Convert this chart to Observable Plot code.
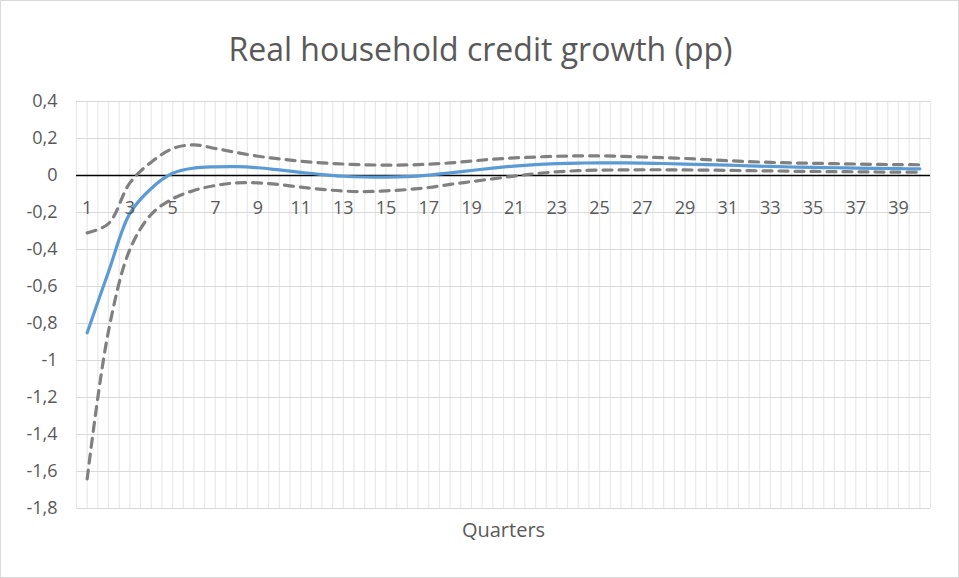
<!DOCTYPE html>
<html>
<head>
<meta charset="utf-8">
<script src="https://cdn.jsdelivr.net/npm/d3@7"></script>
<script src="https://cdn.jsdelivr.net/npm/@observablehq/plot@0.6"></script>
<style>
  html, body { margin: 0; padding: 0; background: #fff; }
  #wrap { position: relative; width: 959px; height: 578px; }
  #wrap svg { position: absolute; left: 0; top: 0; }
  #border { position: absolute; left: 0; top: 0; width: 959px; height: 578px; box-sizing: border-box; border: 1px solid #d9d9d9; pointer-events: none; }
</style>
</head>
<body>
<div id="wrap"><div id="border"></div></div>
<script>
const titleText = "Real household credit growth (pp)";
const xTitle = "Quarters";
const quarters = [1,2,3,4,5,6,7,8,9,10,11,12,13,14,15,16,17,18,19,20,21,22,23,24,25,26,27,28,29,30,31,32,33,34,35,36,37,38,39,40];
const central = [-0.85,-0.52,-0.205,-0.07,0.012,0.040,0.047,0.048,0.042,0.030,0.017,0.005,-0.004,-0.008,-0.009,-0.006,0.002,0.014,0.027,0.040,0.051,0.059,0.064,0.067,0.068,0.068,0.067,0.065,0.062,0.059,0.056,0.052,0.049,0.046,0.044,0.042,0.040,0.038,0.037,0.036];
const upper = [-0.31,-0.26,-0.04,0.072,0.145,0.166,0.146,0.124,0.104,0.090,0.077,0.068,0.062,0.058,0.056,0.057,0.061,0.068,0.078,0.088,0.095,0.100,0.104,0.106,0.106,0.104,0.100,0.096,0.092,0.086,0.080,0.075,0.071,0.068,0.066,0.064,0.062,0.060,0.059,0.058];
const lower = [-1.64,-0.84,-0.40,-0.21,-0.126,-0.081,-0.054,-0.040,-0.040,-0.049,-0.063,-0.075,-0.084,-0.087,-0.083,-0.076,-0.065,-0.048,-0.033,-0.018,-0.003,0.010,0.020,0.026,0.029,0.030,0.031,0.031,0.030,0.029,0.028,0.026,0.025,0.023,0.022,0.021,0.020,0.019,0.018,0.018];
const yTicks = [0.4,0.2,0,-0.2,-0.4,-0.6,-0.8,-1,-1.2,-1.4,-1.6,-1.8];
const xLabels = [1,3,5,7,9,11,13,15,17,19,21,23,25,27,29,31,33,35,37,39];

const rows = (vals) => quarters.map((q, i) => ({q, v: vals[i]}));
const vGrid = [];
for (let i = 0; i <= 80; i++) vGrid.push(0.5 + i * 0.5);

const fmt = d => String(d).replace(".", ",");
const textColor = "#595959";
const font = "'Open Sans', sans-serif";

const chart = Plot.plot({
  width: 959,
  height: 578,
  marginLeft: 76,
  marginRight: 29,
  marginTop: 101,
  marginBottom: 70,
  style: { fontFamily: font, background: "transparent", color: textColor },
  x: { domain: [0.5, 40.5], axis: null },
  y: { domain: [-1.8, 0.4], axis: null },
  marks: [
    Plot.ruleX(vGrid, { stroke: "#e8e8e8", strokeWidth: 1.2 }),
    Plot.ruleY(yTicks, { stroke: "#d9d9d9", strokeWidth: 1.2 }),
    Plot.ruleY([0], { stroke: "#000", strokeWidth: 1.4 }),
    Plot.line(rows(upper), { x: "q", y: "v", curve: "catmull-rom", stroke: "#808080", strokeWidth: 3.2, strokeDasharray: "9,7", strokeLinecap: "round" }),
    Plot.line(rows(lower), { x: "q", y: "v", curve: "catmull-rom", stroke: "#808080", strokeWidth: 3.2, strokeDasharray: "9,7", strokeLinecap: "round" }),
    Plot.line(rows(central), { x: "q", y: "v", curve: "catmull-rom", stroke: "#5b9bd5", strokeWidth: 3.2, strokeLinecap: "round" }),
    Plot.axisY(yTicks, { tickSize: 0, tickPadding: 19, tickFormat: fmt, fontSize: 18, fill: textColor, label: null }),
    Plot.text(xLabels, { x: d => d, y: () => 0, text: d => String(d), dy: 33, fontSize: 18, fill: textColor }),
    Plot.text([titleText], { frameAnchor: "top", lineAnchor: "middle", dx: -23, dy: -51, fontSize: 32, fill: textColor }),
    Plot.text([xTitle], { frameAnchor: "bottom", lineAnchor: "middle", dy: 22, fontSize: 20, fill: textColor })
  ]
});
document.getElementById("wrap").insertBefore(chart, document.getElementById("border"));
</script>
</body>
</html>
